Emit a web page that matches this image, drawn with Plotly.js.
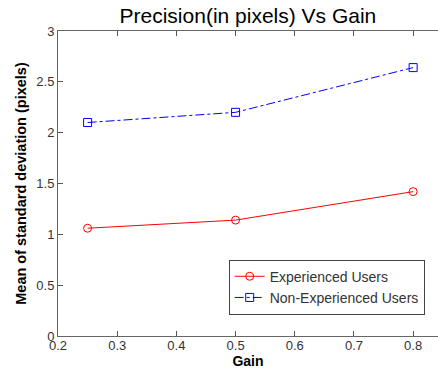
<!DOCTYPE html>
<html><head><meta charset="utf-8">
<script src="https://cdn.plot.ly/plotly-3.0.1.min.js"></script>
<style>html,body{margin:0;padding:0;overflow:hidden;background:#fff}</style>
</head><body><div id="c" style="width:438px;height:373px"></div>
<script>
const gain = [0.25, 0.5, 0.8];
const experienced = [1.06, 1.14, 1.42];
const nonExperienced = [2.10, 2.20, 2.64];
const xTicks = [0.2, 0.3, 0.4, 0.5, 0.6, 0.7, 0.8];
const yTicks = [0, 0.5, 1, 1.5, 2, 2.5, 3];
const seriesNames = ['Experienced Users', 'Non-Experienced Users'];

const traces = [
  {x: gain, y: experienced, name: seriesNames[0], type: 'scatter', mode: 'lines+markers',
   line: {color: '#ff0000', width: 1},
   marker: {symbol: 'circle-open', size: 8, color: '#ff0000', line: {width: 1}}},
  {x: gain, y: nonExperienced, name: seriesNames[1], type: 'scatter', mode: 'lines+markers',
   line: {color: '#0000ff', width: 1, dash: 'dashdot'},
   marker: {symbol: 'square-open', size: 8, color: '#0000ff', line: {width: 1}}}
];
const ff = 'Liberation Sans, Arial, sans-serif';
const axFont = {family: ff, size: 13, color: '#333'};
const layout = {
  width: 438, height: 373,
  margin: {l: 58, r: 0, t: 31, b: 37, pad: 0},
  paper_bgcolor: '#fff', plot_bgcolor: '#fff',
  title: {text: 'Precision(in pixels) Vs Gain', font: {family: ff, size: 21, color: '#000'},
          x: 0.566, xanchor: 'center', y: 0.957, yanchor: 'middle'},
  xaxis: {range: [0.2, 0.842], tickvals: xTicks, ticktext: xTicks.map(v => v.toFixed(1)),
          ticks: 'inside', ticklen: 5, tickcolor: '#555', showline: true, linecolor: '#666', linewidth: 1,
          mirror: 'ticks', showgrid: false, zeroline: false, tickfont: axFont, ticklabelstandoff: -3,
          title: {text: '<b>Gain</b>', font: {family: ff, size: 14, color: '#000'}, standoff: 2}},
  yaxis: {range: [0, 3], tickvals: yTicks, ticktext: yTicks.map(v => String(v)),
          ticks: 'inside', ticklen: 5, tickcolor: '#555', showline: true, linecolor: '#666', linewidth: 1,
          showgrid: false, zeroline: false, tickfont: axFont,
          title: {text: '<b>Mean of standard deviation (pixels)</b>', font: {family: ff, size: 14.5, color: '#000'}, standoff: 6}},
  legend: {x: 0.965, y: 0.07, xanchor: 'right', yanchor: 'bottom', bgcolor: '#fff', bordercolor: '#444', borderwidth: 1,
           font: {family: ff, size: 14, color: '#333'}, tracegroupgap: 0, itemwidth: 30},
  showlegend: true
};
Plotly.newPlot('c', traces, layout, {displayModeBar: false, staticPlot: true});
</script></body></html>
